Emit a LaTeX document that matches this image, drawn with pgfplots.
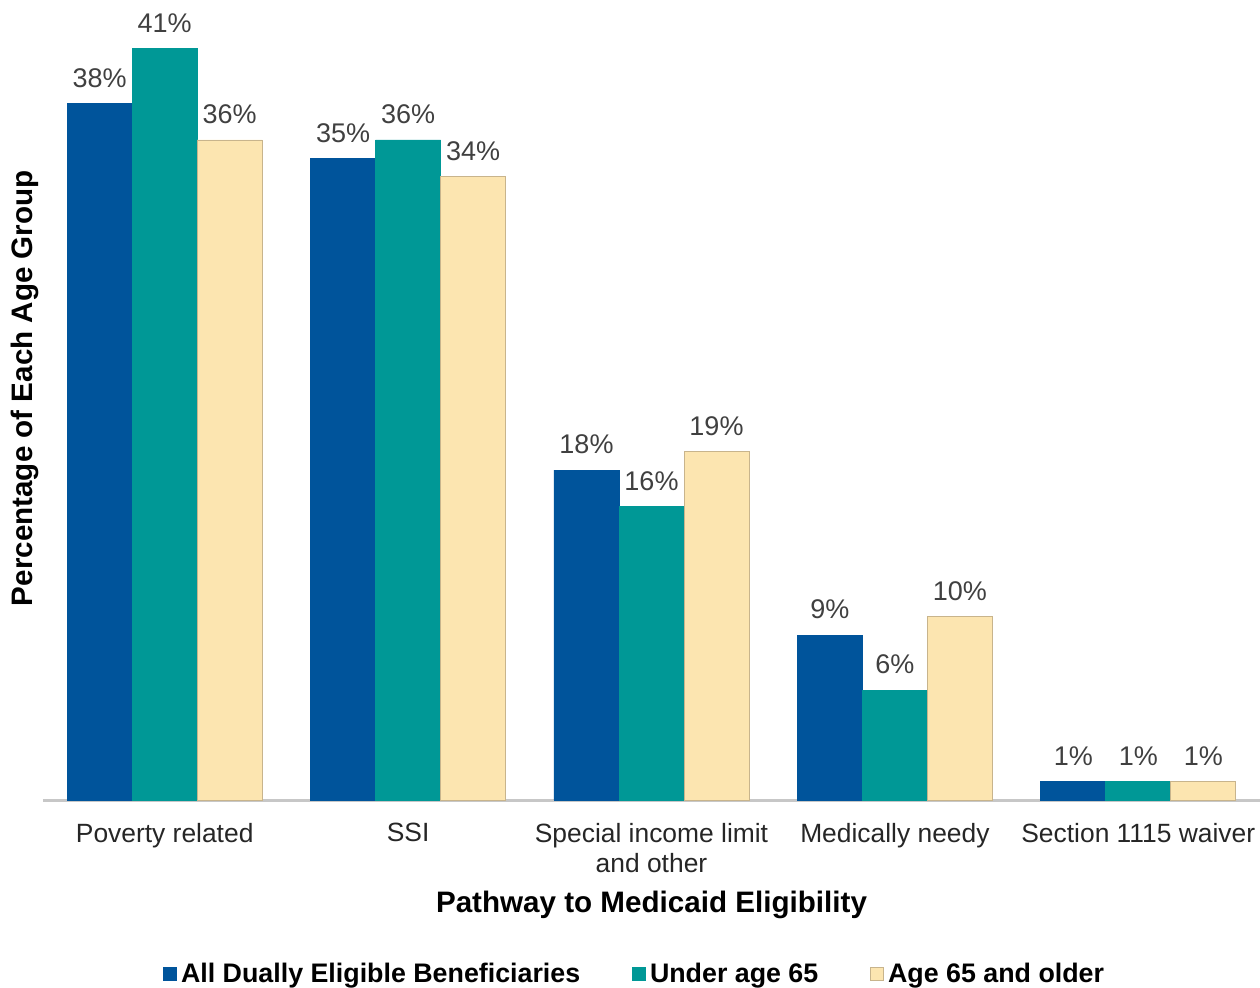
\documentclass[border=0pt]{standalone}
\usepackage{fontspec}
\setmainfont{Liberation Sans}
\usepackage{pgfplots}
\pgfplotsset{compat=1.18}
\definecolor{cblue}{RGB}{0,84,155}
\definecolor{cteal}{RGB}{0,152,150}
\definecolor{cyell}{RGB}{252,229,176}
\definecolor{cborder}{RGB}{200,180,140}
\begin{document}
\begin{tikzpicture}
\useasboundingbox (-21.5pt,-93.5pt) rectangle (608.5pt,400pt);
\begin{axis}[
 scale only axis, width=608.5pt, height=396pt,
 ybar=0pt, bar width=32.5pt,
 xmin=-0.5, xmax=4.5, ymin=0, ymax=43.2,
 xtick={0,...,4},
 xticklabels={Poverty related, SSI, {Special income limit\\and other}, Medically needy, Section 1115 waiver},
 xticklabel style={align=center, font=\fontsize{13.2}{15}\selectfont, text=black!85, yshift=-8pt},
 major tick length=0pt,
 ytick=\empty,
 axis x line*=bottom, axis y line*=left,
 x axis line style={draw=black!22, line width=1.5pt},
 y axis line style={draw=none},
 clip=false,
 /pgf/number format/assume math mode=true,
 nodes near coords={\pgfmathprintnumber{\pgfplotspointmeta}\%},
 nodes near coords style={font=\fontsize{13.5}{15}\selectfont, text=black!75, yshift=4.5pt},
 xlabel={Pathway to Medicaid Eligibility},
 ylabel={Percentage of Each Age Group},
 label style={font=\fontsize{14.8}{17}\selectfont\bfseries},
 xlabel style={at={(axis description cs:0.5,-0.132)}, anchor=center},
 ylabel style={at={(axis description cs:-0.0148,0.52)}, anchor=center},
 legend columns=3,
 legend style={draw=none, at={(axis description cs:0.487,-0.2197)}, anchor=center,
   font=\fontsize{13.4}{15}\selectfont\bfseries,
   /tikz/every even column/.append style={column sep=24pt}},
 legend image code/.code={\draw[#1] (0pt,-3.4pt) rectangle (6.5pt,3.4pt);},
]
\addplot[fill=cblue, draw=cblue] coordinates {(0,38) (1,35) (2,18) (3,9) (4,1)};
\addplot[fill=cteal, draw=cteal] coordinates {(0,41) (1,36) (2,16) (3,6) (4,1)};
\addplot[fill=cyell, draw=cborder, line width=0.4pt] coordinates {(0,36) (1,34) (2,19) (3,10) (4,1)};
\legend{All Dually Eligible Beneficiaries, Under age 65, Age 65 and older}
\end{axis}
\end{tikzpicture}
\end{document}
